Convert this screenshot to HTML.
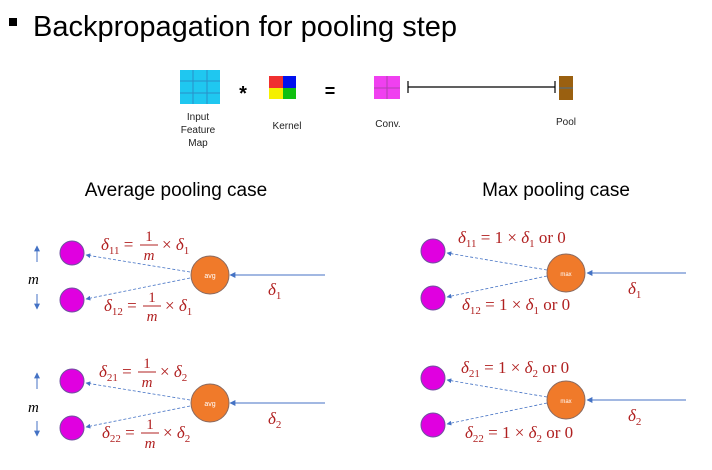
<!DOCTYPE html><html><head><style>body{margin:0;background:#fff}svg{display:block}</style></head><body>
<svg width="712" height="470" viewBox="0 0 712 470" xmlns="http://www.w3.org/2000/svg" font-family="Liberation Sans, sans-serif">
<defs><marker id="a" viewBox="0 0 10 10" refX="9" refY="5" markerWidth="6" markerHeight="6" orient="auto"><path d="M0,0L10,5L0,10z" fill="#4472c4"/></marker></defs>
<rect x="9" y="18" width="8" height="8" fill="#000"/>
<text x="33" y="36" font-size="29">Backpropagation for pooling step</text>
<rect x="180" y="70" width="40" height="34" fill="#1fc7f0"/>
<g stroke="#2a8fc8" stroke-width="1"><line x1="193" y1="70" x2="193" y2="104"/><line x1="207" y1="70" x2="207" y2="104"/><line x1="180" y1="81" x2="220" y2="81"/><line x1="180" y1="93" x2="220" y2="93"/></g>
<text x="243" y="100" font-size="20" font-weight="bold" text-anchor="middle">*</text>
<rect x="269" y="76" width="14" height="12" fill="#f03030"/><rect x="283" y="76" width="13" height="12" fill="#0010ee"/><rect x="269" y="88" width="14" height="11" fill="#f5f000"/><rect x="283" y="88" width="13" height="11" fill="#10c010"/>
<text x="330" y="97" font-size="18" font-weight="bold" text-anchor="middle">=</text>
<rect x="374" y="76" width="26" height="23" fill="#f040f0"/>
<g stroke="#b040b0"><line x1="387" y1="76" x2="387" y2="99"/><line x1="374" y1="88" x2="400" y2="88"/></g>
<g stroke="#000" stroke-width="1.2"><line x1="408" y1="87" x2="555" y2="87"/><line x1="408" y1="81" x2="408" y2="93"/><line x1="555" y1="81" x2="555" y2="93"/></g>
<rect x="559" y="76" width="14" height="24" fill="#9a6010"/><line x1="559" y1="88" x2="573" y2="88" stroke="#4a7090"/>
<g font-size="10" text-anchor="middle" fill="#222"><text x="198" y="120">Input</text><text x="198" y="133">Feature</text><text x="198" y="146">Map</text><text x="287" y="129">Kernel</text><text x="388" y="127">Conv.</text><text x="566" y="125">Pool</text></g>
<text x="176" y="196" font-size="19" text-anchor="middle">Average pooling case</text>
<text x="556" y="196" font-size="19" text-anchor="middle">Max pooling case</text>
<g id="L1">
<line x1="325" y1="275" x2="230" y2="275" stroke="#4472c4" stroke-width="1" marker-end="url(#a)"/>
<line x1="190" y1="272" x2="86" y2="255" stroke="#4472c4" stroke-width="0.8" stroke-dasharray="3,2" marker-end="url(#a)"/>
<line x1="190" y1="278" x2="86" y2="299" stroke="#4472c4" stroke-width="0.8" stroke-dasharray="3,2" marker-end="url(#a)"/>
<circle cx="72" cy="253" r="12" fill="#e000e0" stroke="#7050a0"/>
<circle cx="72" cy="300" r="12" fill="#e000e0" stroke="#7050a0"/>
<circle cx="210" cy="275" r="19" fill="#f07a2a" stroke="#8a6a60"/>
</g>
<use href="#L1" y="128"/>
<text x="210" y="278" font-size="7" fill="#fff" text-anchor="middle">avg</text>
<text x="210" y="406" font-size="7" fill="#fff" text-anchor="middle">avg</text>
<g id="R1">
<line x1="686" y1="273" x2="587" y2="273" stroke="#4472c4" stroke-width="1" marker-end="url(#a)"/>
<line x1="547" y1="270" x2="447" y2="253" stroke="#4472c4" stroke-width="0.8" stroke-dasharray="3,2" marker-end="url(#a)"/>
<line x1="547" y1="276" x2="447" y2="297" stroke="#4472c4" stroke-width="0.8" stroke-dasharray="3,2" marker-end="url(#a)"/>
<circle cx="433" cy="251" r="12" fill="#e000e0" stroke="#7050a0"/>
<circle cx="433" cy="298" r="12" fill="#e000e0" stroke="#7050a0"/>
<circle cx="566" cy="273" r="19" fill="#f07a2a" stroke="#8a6a60"/>
</g>
<use href="#R1" y="127"/>
<text x="566" y="276" font-size="6" fill="#fff" text-anchor="middle">max</text>
<text x="566" y="403" font-size="6" fill="#fff" text-anchor="middle">max</text>
<g stroke="#4472c4"><line x1="37" y1="262" x2="37" y2="246" marker-end="url(#a)"/><line x1="37" y1="294" x2="37" y2="309" marker-end="url(#a)"/><line x1="37" y1="389" x2="37" y2="373" marker-end="url(#a)"/><line x1="37" y1="421" x2="37" y2="436" marker-end="url(#a)"/></g>
<g font-family="Liberation Serif, serif" font-style="italic" font-size="15"><text x="28" y="284">m</text><text x="28" y="412">m</text></g>
<g font-family="Liberation Serif, serif" fill="#b02020" font-size="17">
<text x="101" y="250"><tspan font-style="italic">δ</tspan><tspan font-size="11" dy="4">11</tspan><tspan dy="-4"> = </tspan></text>
<text x="149" y="241" text-anchor="middle" font-size="15">1</text><line x1="140" y1="245" x2="158" y2="245" stroke="#b02020"/><text x="149" y="260" text-anchor="middle" font-style="italic" font-size="15">m</text>
<text x="162" y="250">× <tspan font-style="italic">δ</tspan><tspan font-size="11" dy="4">1</tspan></text>
<text x="104" y="311"><tspan font-style="italic">δ</tspan><tspan font-size="11" dy="4">12</tspan><tspan dy="-4"> = </tspan></text>
<text x="152" y="302" text-anchor="middle" font-size="15">1</text><line x1="143" y1="306" x2="161" y2="306" stroke="#b02020"/><text x="152" y="321" text-anchor="middle" font-style="italic" font-size="15">m</text>
<text x="165" y="311">× <tspan font-style="italic">δ</tspan><tspan font-size="11" dy="4">1</tspan></text>
<text x="99" y="377"><tspan font-style="italic">δ</tspan><tspan font-size="11" dy="4">21</tspan><tspan dy="-4"> = </tspan></text>
<text x="147" y="368" text-anchor="middle" font-size="15">1</text><line x1="138" y1="372" x2="156" y2="372" stroke="#b02020"/><text x="147" y="387" text-anchor="middle" font-style="italic" font-size="15">m</text>
<text x="160" y="377">× <tspan font-style="italic">δ</tspan><tspan font-size="11" dy="4">2</tspan></text>
<text x="102" y="438"><tspan font-style="italic">δ</tspan><tspan font-size="11" dy="4">22</tspan><tspan dy="-4"> = </tspan></text>
<text x="150" y="429" text-anchor="middle" font-size="15">1</text><line x1="141" y1="433" x2="159" y2="433" stroke="#b02020"/><text x="150" y="448" text-anchor="middle" font-style="italic" font-size="15">m</text>
<text x="163" y="438">× <tspan font-style="italic">δ</tspan><tspan font-size="11" dy="4">2</tspan></text>
<text x="268" y="295" font-style="italic">δ<tspan font-size="11" dy="4" font-style="normal">1</tspan></text>
<text x="268" y="424" font-style="italic">δ<tspan font-size="11" dy="4" font-style="normal">2</tspan></text>
<text x="628" y="294" font-style="italic">δ<tspan font-size="11" dy="4" font-style="normal">1</tspan></text>
<text x="628" y="421" font-style="italic">δ<tspan font-size="11" dy="4" font-style="normal">2</tspan></text>
<text x="458" y="243"><tspan font-style="italic">δ</tspan><tspan font-size="11" dy="4">11</tspan><tspan dy="-4"> = 1 × </tspan><tspan font-style="italic">δ</tspan><tspan font-size="11" dy="4">1</tspan><tspan dy="-4"> or 0</tspan></text>
<text x="462" y="310"><tspan font-style="italic">δ</tspan><tspan font-size="11" dy="4">12</tspan><tspan dy="-4"> = 1 × </tspan><tspan font-style="italic">δ</tspan><tspan font-size="11" dy="4">1</tspan><tspan dy="-4"> or 0</tspan></text>
<text x="461" y="373"><tspan font-style="italic">δ</tspan><tspan font-size="11" dy="4">21</tspan><tspan dy="-4"> = 1 × </tspan><tspan font-style="italic">δ</tspan><tspan font-size="11" dy="4">2</tspan><tspan dy="-4"> or 0</tspan></text>
<text x="465" y="438"><tspan font-style="italic">δ</tspan><tspan font-size="11" dy="4">22</tspan><tspan dy="-4"> = 1 × </tspan><tspan font-style="italic">δ</tspan><tspan font-size="11" dy="4">2</tspan><tspan dy="-4"> or 0</tspan></text>
</g>
</svg></body></html>
